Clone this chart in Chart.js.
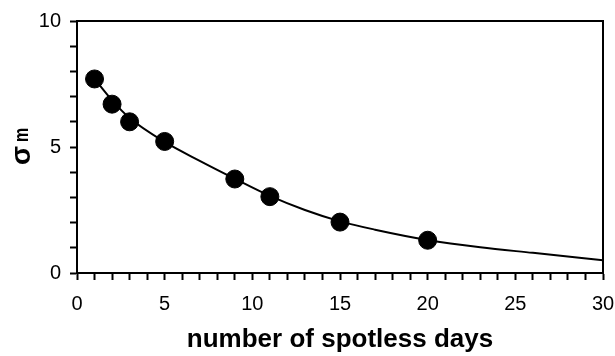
<!DOCTYPE html>
<html>
<head>
<meta charset="utf-8">
<script src="https://cdn.jsdelivr.net/npm/chart.js@4.4.1/dist/chart.umd.min.js"></script>
<style>
  html, body { margin: 0; padding: 0; background: #fff; }
  #wrap { width: 615px; height: 356px; position: relative; }
</style>
</head>
<body>
<div id="wrap"><canvas id="chart"></canvas></div>
<script>
// sigma_m vs number of spotless days: measured points plus a fitted decay curve.
const dayValues = [1, 2, 3, 5, 9, 11, 15, 20];
const sigmaValues = [7.7, 6.7, 6.0, 5.22, 3.73, 3.03, 2.02, 1.3];

// fitted curve
const curveDays = [1, 2, 3, 5, 7, 9, 11, 13, 15, 17, 20, 23, 26, 30];
const curveSigma = [7.7, 6.85, 6.15, 5.2, 4.45, 3.74, 3.06, 2.5, 2.05, 1.72, 1.31, 1.02, 0.8, 0.51];

const xMajorLabels = [0, 5, 10, 15, 20, 25, 30];
const yMajorLabels = [0, 5, 10];

const INK = '#000';
const FONT = 'Liberation Sans, Arial, Helvetica, sans-serif';

// box around the plotting area (top + right sides too)
const framePlugin = {
  id: 'frame',
  afterDraw: function (chart) {
    const a = chart.chartArea;
    const ctx = chart.ctx;
    ctx.save();
    ctx.strokeStyle = INK;
    ctx.lineWidth = 2;
    ctx.strokeRect(a.left, a.top, a.right - a.left, a.bottom - a.top);
    ctx.restore();
  }
};

// rotated "σ m" axis label, m set a little smaller and narrower
const yLabelPlugin = {
  id: 'yLabel',
  afterDraw: function (chart) {
    const ctx = chart.ctx;
    ctx.save();
    ctx.translate(30, 165);
    ctx.rotate(-Math.PI / 2);
    ctx.fillStyle = INK;
    ctx.textBaseline = 'alphabetic';
    ctx.textAlign = 'left';
    ctx.font = 'bold 28px ' + FONT;
    ctx.fillText('σ', 0, 0);
    ctx.translate(23, -2);
    ctx.scale(0.8, 1);
    ctx.font = 'bold 20px ' + FONT;
    ctx.fillText('m', 0, 0);
    ctx.restore();
  }
};

const pointData = dayValues.map(function (d, i) { return { x: d, y: sigmaValues[i] }; });
const curveData = curveDays.map(function (d, i) { return { x: d, y: curveSigma[i] }; });

new Chart(document.getElementById('chart').getContext('2d'), {
  type: 'scatter',
  data: {
    datasets: [
      {
        label: 'measured',
        data: pointData,
        backgroundColor: INK,
        borderColor: INK,
        pointRadius: 9,
        pointHoverRadius: 9,
        order: 0
      },
      {
        label: 'fit',
        type: 'line',
        data: curveData,
        borderColor: INK,
        borderWidth: 2,
        pointRadius: 0,
        fill: false,
        cubicInterpolationMode: 'monotone',
        order: 1
      }
    ]
  },
  options: {
    responsive: true,
    maintainAspectRatio: false,
    animation: false,
    layout: { padding: { top: 19, right: 12, left: 0, bottom: 0 } },
    plugins: { legend: { display: false }, tooltip: { enabled: false } },
    scales: {
      x: {
        type: 'linear',
        min: 0,
        max: 30,
        afterFit: function (s) {
          s.height = 83;
          // keep the plot edge fixed; tick padding would otherwise widen it
          s.paddingLeft = 0;
          s.paddingRight = 0;
        },
        border: { display: true, color: INK, width: 2 },
        grid: { drawOnChartArea: false, drawTicks: true, tickLength: 7, tickColor: INK, tickWidth: 2 },
        ticks: {
          stepSize: 1,
          autoSkip: false,
          maxRotation: 0,
          padding: 12,
          color: INK,
          font: { family: FONT, size: 20 },
          callback: function (v) { return xMajorLabels.indexOf(v) >= 0 ? String(v) : ''; }
        },
        title: {
          display: true,
          text: 'number of spotless days',
          color: INK,
          font: { family: FONT, size: 26, weight: 'bold' },
          padding: { top: 0, bottom: 1 }
        }
      },
      y: {
        min: 0,
        max: 10,
        afterFit: function (s) { s.width = 77; },
        border: { display: true, color: INK, width: 2 },
        grid: { drawOnChartArea: false, drawTicks: true, tickLength: 7, tickColor: INK, tickWidth: 2 },
        ticks: {
          stepSize: 1,
          autoSkip: false,
          padding: 9,
          color: INK,
          font: { family: FONT, size: 20 },
          callback: function (v) { return yMajorLabels.indexOf(v) >= 0 ? String(v) : ''; }
        }
      }
    }
  },
  plugins: [framePlugin, yLabelPlugin]
});
</script>
</body>
</html>
